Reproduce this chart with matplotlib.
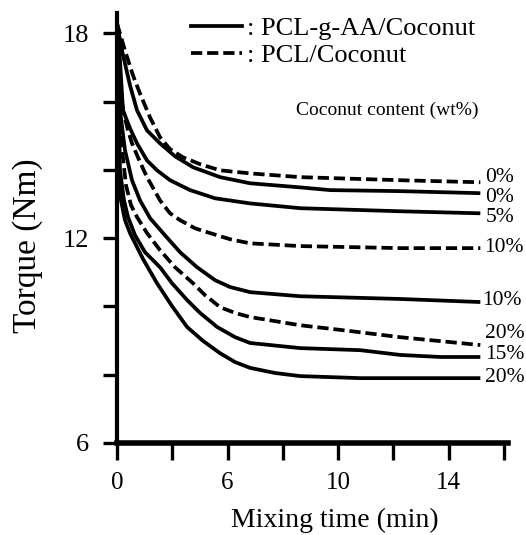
import numpy as np
from matplotlib import pyplot as plt
from matplotlib.lines import Line2D

plt.rcParams['font.family'] = ['Liberation Serif', 'DejaVu Serif']

# PCL-g-AA/Coconut (solid lines): time (min), torque (Nm)
t_g0 = [0, 0.272, 0.707, 1.087, 1.63, 2.337, 3.152, 4.13, 5.598, 6.819, 8.63, 9.717, 12.25, 15.15]
y_g0 = [18.3, 17.50, 16.48, 15.75, 15.16, 14.78, 14.40, 14.08, 13.79, 13.61, 13.49, 13.41, 13.38, 13.32]
t_g5 = [0, 0.163, 0.326, 0.707, 1.087, 1.63, 2.174, 2.88, 3.967, 5.326, 6.819, 8.63, 12.25, 15.15]
y_g5 = [18.3, 17.21, 15.75, 15.22, 14.78, 14.28, 13.99, 13.70, 13.41, 13.17, 13.02, 12.88, 12.79, 12.73]
t_g10 = [0, 0.163, 0.435, 0.815, 1.25, 1.793, 2.5, 3.424, 4.348, 5.326, 6.094, 6.819, 8.63, 12.25, 15.15]
y_g10 = [18.3, 15.75, 14.58, 13.70, 13.11, 12.59, 12.15, 11.59, 11.15, 10.77, 10.57, 10.42, 10.30, 10.22, 10.13]
t_g15 = [0, 0.163, 0.38, 0.598, 0.978, 1.522, 2.337, 2.989, 3.804, 4.511, 5.435, 6.275, 6.819, 8.63, 10.8, 12.25, 13.7, 15.15]
y_g15 = [18.3, 13.99, 13.11, 12.62, 12.09, 11.59, 11.15, 10.68, 10.19, 9.81, 9.40, 9.10, 8.93, 8.78, 8.72, 8.58, 8.52, 8.52]
t_g20 = [0, 0.109, 0.217, 0.435, 0.707, 1.413, 2.174, 2.989, 3.804, 4.674, 5.598, 6.275, 6.819, 7.725, 8.63, 10.8, 15.15]
y_g20 = [18.3, 13.99, 13.11, 12.53, 12.15, 11.39, 10.68, 10.01, 9.40, 8.99, 8.63, 8.37, 8.20, 8.05, 7.96, 7.90, 7.90]

# PCL/Coconut (dashed lines)
t_p0 = [0, 0.435, 0.87, 1.25, 1.793, 2.337, 2.88, 3.587, 4.511, 5.598, 6.819, 8.63, 12.25, 15.15]
y_p0 = [18.3, 17.50, 16.77, 16.24, 15.54, 14.96, 14.61, 14.37, 14.17, 13.99, 13.90, 13.79, 13.70, 13.64]
t_p10 = [0, 0.163, 0.326, 0.598, 0.815, 1.25, 1.63, 2.337, 2.88, 3.424, 4.239, 5.054, 6.094, 6.819, 8.63, 12.25, 15.15]
y_p10 = [18.3, 16.62, 15.75, 15.16, 14.78, 14.23, 13.79, 13.11, 12.73, 12.53, 12.29, 12.15, 11.97, 11.85, 11.77, 11.71, 11.71]
t_p20 = [0, 0.217, 0.489, 0.761, 1.087, 1.63, 2.337, 3.152, 4.13, 4.783, 5.598, 6.275, 6.819, 8.63, 10.44, 12.25, 15.15]
y_p20 = [18.3, 14.87, 13.55, 12.97, 12.62, 12.15, 11.65, 11.15, 10.68, 10.33, 9.98, 9.81, 9.69, 9.45, 9.28, 9.10, 8.87]

xticks = [0, 3, 6, 8, 10, 12, 14, 16]
xticklabels = ['0', '', '6', '', '10', '', '14', '']
yticks = [6, 8, 10, 12, 14, 16, 18]
yticklabels = ['6', '', '', '12', '', '', '18']


# time axis: 3 min per tick up to 6 min, then 2 min per tick
def fwd(t):
	t = np.asarray(t, dtype=float)
	return np.where(t <= 6, t / 3, 2 + (t - 6) / 2)


def inv(p):
	p = np.asarray(p, dtype=float)
	return np.where(p <= 2, 3 * p, 6 + 2 * (p - 2))


fig = plt.figure(figsize=(5.26, 5.35), dpi=100)
ax = fig.add_axes([0.2224, 0.172, 0.7433, 0.8037])
ax.set_xscale('function', functions=(fwd, inv))

lw = 2.7
dash = (0, (3, 1.3))
series = [
	(t_p0, y_p0, dash, '0%', -5, 5),
	(t_g0, y_g0, '-', '0%', 4, 5),
	(t_g5, y_g5, '-', '5%', 4, 5),
	(t_p10, y_p10, dash, '10%', -1, 4),
	(t_g10, y_g10, '-', '10%', -2, 2),
	(t_p20, y_p20, dash, '20%', -12, 5),
	(t_g15, y_g15, '-', '15%', -2, 5),
	(t_g20, y_g20, '-', '20%', -1, 5),
]
for t, y, ls, lab, dy, dx in series:
	ax.plot(t, y, color='black', lw=lw, linestyle=ls, solid_capstyle='butt',
		solid_joinstyle='round')
	ax.annotate(lab, xy=(t[-1], y[-1]), xytext=(dx * 0.72, -dy * 0.72),
		textcoords='offset points', ha='left', va='center', fontsize=15.5)

ax.set_xlim(0, 16.15)
ax.set_ylim(6, 18.6)
ax.set_xticks(xticks)
ax.set_xticklabels(xticklabels)
ax.set_yticks(yticks)
ax.set_yticklabels(yticklabels)
ax.minorticks_off()
ax.tick_params(axis='x', length=12, width=2.4, pad=9, labelsize=18)
ax.tick_params(axis='y', length=10, width=2.4, pad=10, labelsize=19)

ax.spines['top'].set_visible(False)
ax.spines['right'].set_visible(False)
ax.spines['left'].set_linewidth(3)
ax.spines['bottom'].set_linewidth(4)

ax.set_xlabel('Mixing time (min)', fontsize=20)
ax.xaxis.label.set_va('center')
ax.xaxis.set_label_coords(0.5575, -0.179)
ax.set_ylabel('Torque (Nm)', fontsize=24)
ax.yaxis.label.set_va('center')
ax.yaxis.set_label_coords(-0.2276, 0.46)

handles = [Line2D([], [], color='black', lw=lw),
	Line2D([], [], color='black', lw=lw, linestyle=dash)]
ax.legend(handles, [': PCL-g-AA/Coconut', ': PCL/Coconut'], loc='upper left',
	bbox_to_anchor=(0.189, 0.992), frameon=False, fontsize=19, handlelength=1.93,
	handletextpad=0.2, labelspacing=0.15, borderpad=0, borderaxespad=0)
ax.text(0.69, 0.774, 'Coconut content (wt%)', transform=ax.transAxes,
	ha='center', va='center', fontsize=14)

plt.savefig('out.png', dpi=100)
